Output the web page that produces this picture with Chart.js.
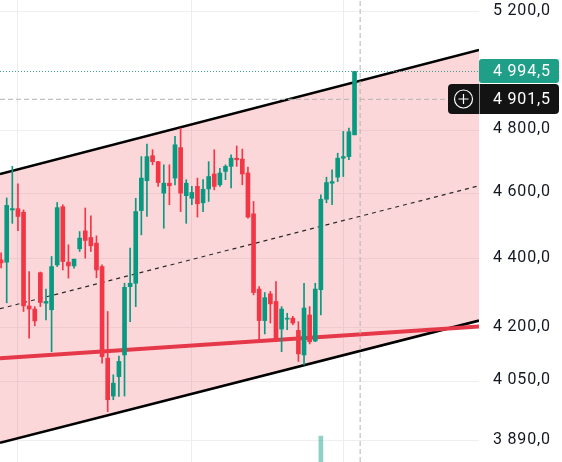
<!DOCTYPE html>
<html><head><meta charset="utf-8">
<script src="https://cdn.jsdelivr.net/npm/chart.js@4"></script>
<style>html,body{margin:0;padding:0;background:#fff;overflow:hidden}#wrap{width:562px;height:462px}</style>
</head><body><div id="wrap"><canvas id="c" width="562" height="462"></canvas></div>
<script>
// ---- data ----
const opens  = [4397,4390,4548,4552,4541,4262,4253,4359,4270,4251,4382,4558,4390,4379,4430,4484,4464,4447,4377,4114,4010,4063,4123,4318,4328,4546,4639,4718,4699,4600,4631,4647,4744,4592,4584,4621,4570,4613,4660,4626,4668,4684,4710,4707,4663,4536,4311,4220,4297,4275,4196,4224,4227,4192,4123,4236,4162,4309,4581,4631,4650,4710,4715,4785];
const highs  = [4418,4585,4684,4629,4548,4362,4260,4361,4311,4407,4571,4564,4442,4399,4482,4554,4530,4469,4382,4246,4068,4120,4328,4432,4584,4715,4755,4737,4700,4689,4689,4780,4807,4642,4621,4647,4642,4699,4737,4678,4689,4721,4749,4739,4682,4574,4318,4301,4304,4333,4260,4241,4232,4217,4328,4260,4328,4595,4650,4673,4726,4796,4807,4994.5];
const lows   = [4373,4271,4507,4485,4246,4170,4205,4260,4222,4132,4377,4367,4343,4372,4422,4402,4422,4344,4100,3968,4000,4009,4010,4217,4260,4472,4528,4689,4621,4492,4564,4626,4543,4507,4564,4526,4543,4574,4610,4621,4642,4616,4684,4626,4523,4294,4165,4182,4213,4160,4132,4194,4208,4105,4095,4154,4160,4236,4570,4564,4636,4652,4705,4785];
const closes = [4388,4562,4552,4528,4262,4253,4219,4272,4275,4377,4555,4392,4379,4399,4462,4455,4439,4367,4118,4000,4045,4105,4316,4328,4543,4647,4715,4699,4633,4631,4623,4753,4600,4631,4602,4567,4612,4652,4621,4663,4684,4710,4705,4660,4526,4301,4220,4286,4268,4165,4253,4227,4213,4126,4256,4160,4311,4581,4633,4636,4710,4715,4795,4994.5];
const volumeIndex = [57];
const volumeValue = [5.6];
const priceTicks = [5200, 4800, 4600, 4400, 4200, 4050, 3890];
const channelUpper = [4660, 5068];
const channelLower = [3885, 4220];
const channelMid   = [4254, 4623];
const supportLine  = [4114, 4203];
const lastPrice = 4994.5;
const crosshairPrice = 4901.5;
const crosshairIndex = 64;
const timeGridLines = [2.9, 34, 61];

// ---- view ----
const xMin = -0.196, xMax = 85.19, yMin = 3835, yMax = 5242;
const UP = '#089981', DOWN = '#f23645';
const SPACING = '0.8px';

function fmt(v, dec){
  const s = Number(v).toFixed(dec).split('.');
  const int = s[0].replace(/\B(?=(\d{3})+(?!\d))/g, ' ');
  return dec ? int + ',' + s[1] : int;
}

const idx = opens.map((_, i) => i);
const candleColor = i => closes[i] >= opens[i] ? UP : DOWN;
const volData = idx.map(i => ({x: i, y: volumeIndex.includes(i) ? volumeValue[volumeIndex.indexOf(i)] : null}));

const seg = (a, b) => [{x: xMin, y: a}, {x: xMax, y: b}];

function rr(ctx, x, y, w, h, r){
  ctx.beginPath();
  ctx.moveTo(x + r, y); ctx.lineTo(x + w - r, y); ctx.quadraticCurveTo(x + w, y, x + w, y + r);
  ctx.lineTo(x + w, y + h - r); ctx.quadraticCurveTo(x + w, y + h, x + w - r, y + h);
  ctx.lineTo(x + r, y + h); ctx.quadraticCurveTo(x, y + h, x, y + h - r);
  ctx.lineTo(x, y + r); ctx.quadraticCurveTo(x, y, x + r, y); ctx.closePath();
}

const letterSpacing = {
  id: 'letterSpacing',
  beforeDraw(chart){ try { chart.ctx.letterSpacing = SPACING; } catch (e) {} }
};

const priceLabels = {
  id: 'priceLabels',
  afterDraw(chart){
    const {ctx, chartArea} = chart;
    const y = chart.scales.y;
    ctx.save();
    try { ctx.letterSpacing = SPACING; } catch (e) {}
    ctx.font = '16px Roboto';
    ctx.textBaseline = 'middle';
    const yl = Math.round(y.getPixelForValue(lastPrice));
    ctx.fillStyle = '#1f9f87';
    rr(ctx, chartArea.right, yl - 12, 80, 24, 3); ctx.fill();
    ctx.fillStyle = '#fff';
    ctx.fillText(fmt(lastPrice, 1), 493, yl + 1);
    const yc = Math.round(y.getPixelForValue(crosshairPrice));
    ctx.fillStyle = '#131313';
    rr(ctx, 448, yc - 15, 111, 30, 4); ctx.fill();
    ctx.strokeStyle = 'rgba(255,255,255,0.55)'; ctx.lineWidth = 1;
    ctx.beginPath(); ctx.moveTo(chartArea.right + 0.5, yc - 15); ctx.lineTo(chartArea.right + 0.5, yc + 15); ctx.stroke();
    ctx.strokeStyle = '#fff'; ctx.lineWidth = 1.2;
    ctx.beginPath(); ctx.arc(463.5, yc, 9, 0, Math.PI * 2); ctx.stroke();
    ctx.beginPath(); ctx.moveTo(458.5, yc); ctx.lineTo(468.5, yc); ctx.moveTo(463.5, yc - 5); ctx.lineTo(463.5, yc + 5); ctx.stroke();
    ctx.fillStyle = '#fff';
    ctx.fillText(fmt(crosshairPrice, 1), 493, yc + 1);
    ctx.restore();
  }
};

new Chart(document.getElementById('c'), {
  type: 'bar',
  data: {
    datasets: [
      {type: 'line', data: seg(channelUpper[0], channelUpper[1]), borderColor: '#000', borderWidth: 2.6, pointRadius: 0, fill: '+1', backgroundColor: 'rgba(242,54,69,0.2)', order: 20},
      {type: 'line', data: seg(channelLower[0], channelLower[1]), borderColor: '#000', borderWidth: 2.6, pointRadius: 0, fill: false, order: 19},
      {type: 'line', data: seg(channelMid[0], channelMid[1]), borderColor: '#2a2a2a', borderWidth: 1.2, borderDash: [4, 4], pointRadius: 0, fill: false, order: 18},
      {type: 'line', data: seg(supportLine[0], supportLine[1]), borderColor: '#e5394a', borderWidth: 4, pointRadius: 0, fill: false, order: 17},
      {type: 'line', data: seg(lastPrice, lastPrice), borderColor: '#3d9e8e', borderWidth: 1, borderDash: [1, 2], pointRadius: 0, fill: false, order: 16},
      {type: 'line', data: seg(crosshairPrice, crosshairPrice), borderColor: '#b4b4b4', borderWidth: 1, borderDash: [5, 3], pointRadius: 0, fill: false, order: 15},
      {type: 'line', data: [{x: crosshairIndex, y: yMin}, {x: crosshairIndex, y: yMax}], borderColor: '#b4b4b4', borderWidth: 1, borderDash: [5, 3], pointRadius: 0, fill: false, order: 15},
      {data: volData, yAxisID: 'yv', backgroundColor: 'rgba(8,153,129,0.45)', barThickness: 4, order: 5},
      {data: idx.map(i => ({x: i, y: [lows[i], highs[i]]})), backgroundColor: idx.map(candleColor), barThickness: 1, order: 2},
      {data: idx.map(i => ({x: i, y: [opens[i], closes[i]]})), backgroundColor: idx.map(candleColor), barThickness: 4, minBarLength: 1, order: 1}
    ]
  },
  options: {
    responsive: false,
    animation: false,
    devicePixelRatio: 1,
    events: [],
    layout: {padding: 0},
    datasets: {bar: {grouped: false}},
    plugins: {legend: {display: false}, tooltip: {enabled: false}},
    scales: {
      x: {
        type: 'linear', min: xMin, max: xMax, offset: false,
        afterBuildTicks: s => { s.ticks = timeGridLines.map(v => ({value: v})); },
        afterFit: s => { s.height = 0; s.paddingLeft = 0; s.paddingRight = 0; s.paddingTop = 0; s.paddingBottom = 0; },
        ticks: {display: false},
        grid: {color: '#ededf0', drawTicks: false, offset: false},
        border: {display: false}
      },
      y: {
        type: 'logarithmic', position: 'right', min: yMin, max: yMax,
        afterBuildTicks: s => { s.ticks = priceTicks.map(v => ({value: v})); },
        afterFit: s => { s.width = 83; s.paddingTop = 0; s.paddingBottom = 0; s.paddingLeft = 0; s.paddingRight = 0; },
        ticks: {callback: v => fmt(v, 1), font: {family: 'Roboto', size: 16}, color: '#131722', padding: 14, labelOffset: -1, autoSkip: false},
        grid: {color: '#efeff2', drawTicks: false},
        border: {display: false}
      },
      yv: {type: 'linear', display: false, min: 0, max: 100}
    }
  },
  plugins: [letterSpacing, priceLabels]
});
</script>
</body></html>
